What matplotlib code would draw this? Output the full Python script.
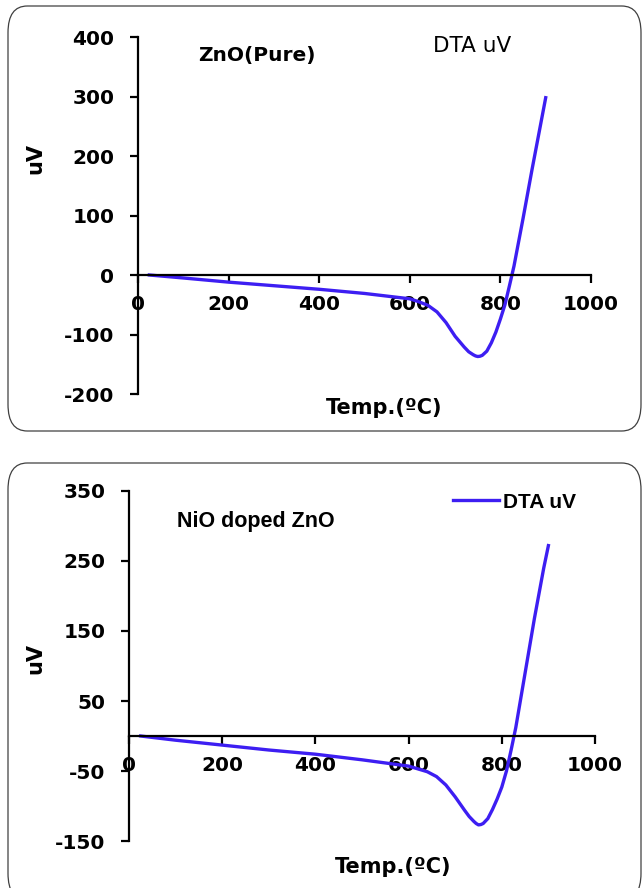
import numpy as np
import matplotlib.pyplot as plt
from matplotlib.patches import FancyBboxPatch

plt.rcParams['font.family'] = ['DejaVu Sans']
plt.rcParams['axes.unicode_minus'] = False

# DTA curves (temperature in C, signal in uV)
temp_pure = [25, 100, 200, 300, 400, 500, 600, 620, 640, 660, 680, 700, 720, 730,
             740, 745, 750, 755, 760, 770, 780, 790, 800, 810, 820, 830, 850, 870,
             890, 900]
dta_pure = [0, -5, -12, -18, -24, -31, -40, -45, -51, -62, -80, -103, -121, -129,
            -134, -136, -137, -136.5, -135, -128, -114, -96, -74, -50, -18, 15, 95,
            178, 258, 298]

temp_nio = [25, 100, 200, 300, 400, 500, 600, 620, 640, 660, 680, 700, 720, 730,
            740, 745, 750, 755, 760, 770, 780, 790, 800, 810, 820, 830, 850, 870,
            890, 900]
dta_nio = [0, -6, -13, -20, -26, -34, -43, -47, -51, -58, -70, -87, -106, -115,
           -122, -125, -127, -126.5, -125, -118, -105, -90, -73, -50, -20, 12, 90,
           168, 240, 272]

xticks = [0, 200, 400, 600, 800, 1000]
yticks_pure = [-200, -100, 0, 100, 200, 300, 400]
yticks_nio = [-150, -50, 50, 150, 250, 350]

Blue = '#3d1ef2'

fig = plt.figure(figsize=(6.43, 8.88), dpi=100)
W, H = 643, 888

# rounded frames around each chart
for (x0, y0, x1, y1) in [(8, 6, 641, 431), (8, 463, 641, 900)]:
    box = FancyBboxPatch((x0 / W, 1 - y1 / H), (x1 - x0) / W, (y1 - y0) / H,
                         boxstyle='round,pad=0,rounding_size=0.03',
                         transform=fig.transFigure, facecolor='white',
                         edgecolor='#404040', linewidth=0.9, zorder=-5)
    fig.patches.append(box)


def style_axis(ax, yticks, ylim):
    ax.set_facecolor('none')
    ax.set_xlim(0, 1000)
    ax.set_ylim(*ylim)
    ax.spines['top'].set_visible(False)
    ax.spines['right'].set_visible(False)
    ax.spines['bottom'].set_position(('data', 0))
    for s in ['left', 'bottom']:
        ax.spines[s].set_linewidth(1.6)
    ax.set_xticks(xticks)
    ax.set_yticks(yticks)
    ax.tick_params(direction='out', length=6, width=1.6, labelsize=14.5)
    ax.tick_params(axis='x', pad=8.5)
    ax.tick_params(axis='y', pad=11)
    for lab in ax.get_xticklabels() + ax.get_yticklabels():
        lab.set_fontweight('bold')


# top chart: pure ZnO
ax1 = fig.add_axes([138 / W, 1 - 394 / H, 453 / W, 357 / H])
ax1.plot(temp_pure, dta_pure, color=Blue, linewidth=2.4)
style_axis(ax1, yticks_pure, (-200, 400))
fig.text(35 / W, 1 - 158 / H, 'uV', rotation=90, fontsize=15, fontweight='bold',
         ha='center', va='center')
fig.text(384 / W, 1 - 408 / H, 'Temp.(ºC)', fontsize=15, fontweight='bold',
         ha='center', va='center')
fig.text(257 / W, 1 - 55 / H, 'ZnO(Pure)', fontsize=14.5, fontweight='heavy',
         ha='center', va='center')
fig.text(472 / W, 1 - 46 / H, 'DTA uV', fontsize=15.5, ha='center', va='center')

# bottom chart: NiO doped ZnO
ax2 = fig.add_axes([129 / W, 1 - 841 / H, 466 / W, 350 / H])
ax2.plot(temp_nio, dta_nio, color=Blue, linewidth=2.4, label='DTA uV')
style_axis(ax2, yticks_nio, (-150, 350))
fig.text(35 / W, 1 - 658 / H, 'uV', rotation=90, fontsize=15, fontweight='bold',
         ha='center', va='center')
fig.text(393 / W, 1 - 867 / H, 'Temp.(ºC)', fontsize=15, fontweight='bold',
         ha='center', va='center')
fig.text(256 / W, 1 - 521 / H, 'NiO doped ZnO', family='Liberation Sans',
         fontsize=15.5, fontweight='bold', ha='center', va='center')
leg = ax2.legend(loc='upper right', bbox_to_anchor=(595 / W, 1 - 474 / H),
                 bbox_transform=fig.transFigure, frameon=False, handlelength=2.2,
                 handletextpad=0.2,
                 prop={'family': 'Liberation Sans', 'size': 15, 'weight': 'bold'})

fig.savefig('out.png', dpi=100)
